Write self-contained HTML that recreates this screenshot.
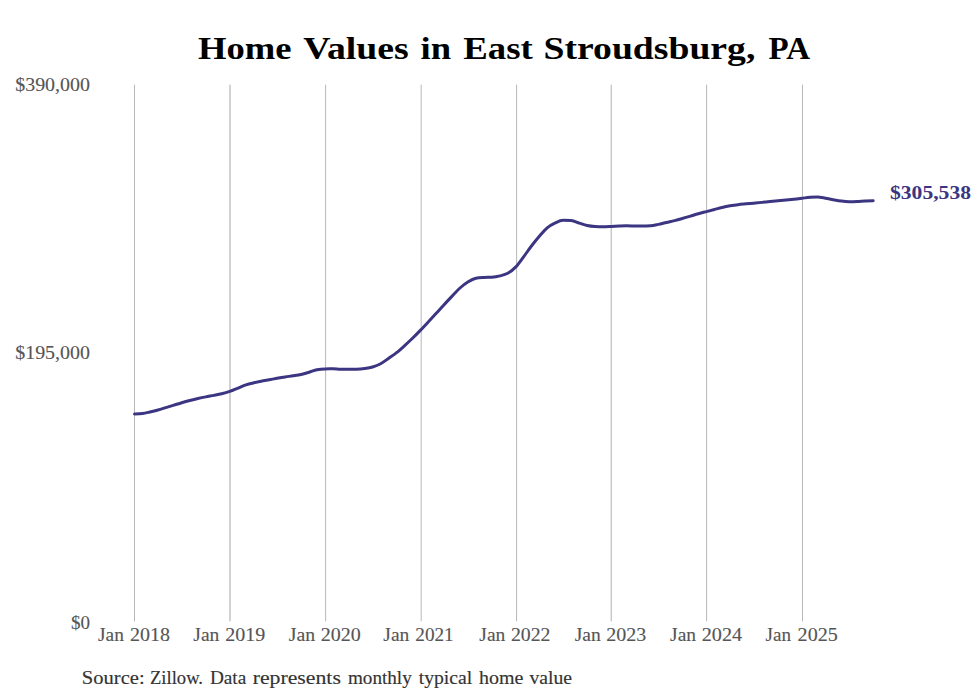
<!DOCTYPE html>
<html><head><meta charset="utf-8">
<style>
html,body{margin:0;padding:0;background:#fff;}
body{width:980px;height:699px;overflow:hidden;}
svg{display:block;}
text{font-family:"Liberation Serif", serif;}
.t{font-weight:bold;font-size:32px;fill:#000;}
.y{font-size:18.2px;fill:#555;stroke:#555;stroke-width:0.12px;}
.x{font-size:17.9px;fill:#555;stroke:#555;stroke-width:0.12px;}
.s{font-size:19px;fill:#333;stroke:#333;stroke-width:0.15px;}
.v{font-weight:bold;font-size:19.3px;fill:#3b3582;}
</style></head><body>
<svg width="980" height="699" viewBox="0 0 980 699">
<rect width="980" height="699" fill="#fff"/>
<g stroke="#b8b8b8" stroke-width="1">
<line x1="134.5" y1="84.7" x2="134.5" y2="621.3"/>
<line x1="230.0" y1="84.7" x2="230.0" y2="621.3" stroke="#a6a6a6"/>
<line x1="325.6" y1="84.7" x2="325.6" y2="621.3"/>
<line x1="421.2" y1="84.7" x2="421.2" y2="621.3"/>
<line x1="516.6" y1="84.7" x2="516.6" y2="621.3"/>
<line x1="611.2" y1="84.7" x2="611.2" y2="621.3" stroke="#b0b0b0"/>
<line x1="706.6" y1="84.7" x2="706.6" y2="621.3"/>
<line x1="802.5" y1="84.7" x2="802.5" y2="621.3"/>
</g>
<text class="t" x="198" y="59.3" textLength="93.5" lengthAdjust="spacingAndGlyphs">Home</text>
<text class="t" x="303.2" y="59.3" textLength="105.6" lengthAdjust="spacingAndGlyphs">Values</text>
<text class="t" x="420.6" y="59.3" textLength="30.5" lengthAdjust="spacingAndGlyphs">in</text>
<text class="t" x="463.3" y="59.3" textLength="69.5" lengthAdjust="spacingAndGlyphs">East</text>
<text class="t" x="543.6" y="59.3" textLength="211.7" lengthAdjust="spacingAndGlyphs">Stroudsburg,</text>
<text class="t" x="768.5" y="59.3" textLength="41.5" lengthAdjust="spacingAndGlyphs">PA</text>
<text class="y" x="90" y="91.3" text-anchor="end" textLength="74.8" lengthAdjust="spacingAndGlyphs">$390,000</text>
<text class="y" x="90" y="359.3" text-anchor="end" textLength="74.8" lengthAdjust="spacingAndGlyphs">$195,000</text>
<text class="y" x="90" y="628.5" text-anchor="end" textLength="19.0" lengthAdjust="spacingAndGlyphs">$0</text>
<g class="x">
<text x="98.0" y="641.1" textLength="25.9" lengthAdjust="spacingAndGlyphs">Jan</text><text x="129.9" y="641.1" textLength="40.0" lengthAdjust="spacingAndGlyphs">2018</text>
<text x="193.3" y="641.1" textLength="26.0" lengthAdjust="spacingAndGlyphs">Jan</text><text x="225.3" y="641.1" textLength="40.0" lengthAdjust="spacingAndGlyphs">2019</text>
<text x="288.7" y="641.1" textLength="26.4" lengthAdjust="spacingAndGlyphs">Jan</text><text x="320.7" y="641.1" textLength="40.0" lengthAdjust="spacingAndGlyphs">2020</text>
<text x="383.3" y="641.1" textLength="26.0" lengthAdjust="spacingAndGlyphs">Jan</text><text x="415.3" y="641.1" textLength="38.4" lengthAdjust="spacingAndGlyphs">2021</text>
<text x="479.3" y="641.1" textLength="26.0" lengthAdjust="spacingAndGlyphs">Jan</text><text x="510.9" y="641.1" textLength="39.6" lengthAdjust="spacingAndGlyphs">2022</text>
<text x="574.7" y="641.1" textLength="26.0" lengthAdjust="spacingAndGlyphs">Jan</text><text x="606.3" y="641.1" textLength="40.0" lengthAdjust="spacingAndGlyphs">2023</text>
<text x="670.1" y="641.1" textLength="26.0" lengthAdjust="spacingAndGlyphs">Jan</text><text x="701.7" y="641.1" textLength="40.4" lengthAdjust="spacingAndGlyphs">2024</text>
<text x="765.6" y="641.1" textLength="25.5" lengthAdjust="spacingAndGlyphs">Jan</text><text x="797.6" y="641.1" textLength="40.2" lengthAdjust="spacingAndGlyphs">2025</text>
</g>
<text class="s" x="81.8" y="683.5" textLength="62.8" lengthAdjust="spacingAndGlyphs">Source:</text>
<text class="s" x="150" y="683.5" textLength="53" lengthAdjust="spacingAndGlyphs">Zillow.</text>
<text class="s" x="209.9" y="683.5" textLength="36.4" lengthAdjust="spacingAndGlyphs">Data</text>
<text class="s" x="252.7" y="683.5" textLength="88.2" lengthAdjust="spacingAndGlyphs">represents</text>
<text class="s" x="347.9" y="683.5" textLength="63.9" lengthAdjust="spacingAndGlyphs">monthly</text>
<text class="s" x="418.7" y="683.5" textLength="53.6" lengthAdjust="spacingAndGlyphs">typical</text>
<text class="s" x="479" y="683.5" textLength="44.5" lengthAdjust="spacingAndGlyphs">home</text>
<text class="s" x="529.4" y="683.5" textLength="42.6" lengthAdjust="spacingAndGlyphs">value</text>
<path d="M134.50,413.96 C137.20,413.87 139.89,413.79 142.59,413.44 C145.03,413.13 147.46,412.48 149.90,411.94 C152.60,411.34 155.29,410.71 157.99,409.97 C160.60,409.26 163.21,408.40 165.82,407.61 C168.52,406.79 171.22,405.97 173.91,405.14 C176.52,404.34 179.14,403.50 181.75,402.73 C184.44,401.94 187.14,401.19 189.84,400.48 C192.53,399.78 195.23,399.11 197.93,398.50 C200.54,397.91 203.15,397.37 205.76,396.86 C208.46,396.33 211.15,395.92 213.85,395.40 C216.46,394.90 219.07,394.46 221.68,393.81 C224.38,393.14 227.08,392.36 229.77,391.41 C232.47,390.46 235.17,389.23 237.87,388.12 C240.30,387.12 242.74,385.94 245.17,385.10 C247.87,384.17 250.57,383.58 253.27,382.92 C255.88,382.28 258.49,381.72 261.10,381.20 C263.79,380.66 266.49,380.24 269.19,379.75 C271.80,379.28 274.41,378.77 277.02,378.31 C279.72,377.83 282.41,377.36 285.11,376.94 C287.81,376.52 290.51,376.23 293.20,375.81 C295.81,375.40 298.42,375.05 301.03,374.46 C303.73,373.85 306.43,373.01 309.13,372.20 C311.74,371.42 314.35,370.22 316.96,369.70 C319.65,369.17 322.35,368.93 325.05,368.90 C327.75,368.87 330.44,368.85 333.14,368.85 C335.66,368.85 338.19,369.30 340.71,369.30 C343.41,369.30 346.10,369.30 348.80,369.30 C351.41,369.30 354.02,369.27 356.63,369.20 C359.33,369.13 362.03,368.83 364.72,368.44 C367.33,368.07 369.94,367.71 372.55,366.94 C375.25,366.15 377.95,365.15 380.65,363.70 C383.34,362.25 386.04,360.09 388.74,358.21 C391.35,356.39 393.96,354.66 396.57,352.60 C399.27,350.47 401.96,348.03 404.66,345.60 C407.27,343.25 409.88,340.84 412.49,338.30 C415.19,335.68 417.89,332.90 420.58,330.10 C423.28,327.30 425.98,324.39 428.67,321.50 C431.11,318.89 433.55,316.26 435.98,313.60 C438.68,310.66 441.38,307.61 444.08,304.70 C446.69,301.88 449.30,299.14 451.91,296.40 C454.60,293.57 457.30,290.43 460.00,288.00 C462.61,285.65 465.22,283.60 467.83,282.00 C470.53,280.34 473.22,278.83 475.92,278.30 C478.62,277.77 481.31,277.68 484.01,277.50 C486.62,277.33 489.23,277.41 491.84,277.23 C494.54,277.04 497.24,276.57 499.93,275.90 C502.54,275.25 505.16,274.76 507.77,273.30 C510.46,271.80 513.16,269.72 515.86,266.90 C518.55,264.08 521.25,259.99 523.95,256.37 C526.39,253.10 528.82,249.48 531.26,246.28 C533.95,242.74 536.65,239.36 539.35,236.26 C541.96,233.26 544.57,230.12 547.18,227.91 C549.88,225.63 552.57,224.18 555.27,222.90 C557.88,221.66 560.49,220.30 563.10,220.30 C565.80,220.30 568.50,220.37 571.19,220.50 C573.89,220.63 576.59,222.25 579.29,223.10 C581.90,223.92 584.51,224.94 587.12,225.50 C589.81,226.08 592.51,226.34 595.21,226.48 C597.82,226.62 600.43,226.69 603.04,226.69 C605.74,226.69 608.43,226.53 611.13,226.42 C613.83,226.31 616.53,226.12 619.22,226.02 C621.66,225.93 624.10,225.83 626.53,225.83 C629.23,225.83 631.93,225.89 634.62,225.92 C637.23,225.95 639.84,226.00 642.45,226.00 C645.15,226.00 647.85,225.93 650.55,225.80 C653.16,225.67 655.77,224.95 658.38,224.40 C661.07,223.83 663.77,223.07 666.47,222.44 C669.17,221.81 671.86,221.27 674.56,220.60 C677.17,219.95 679.78,219.21 682.39,218.47 C685.09,217.71 687.79,216.89 690.48,216.09 C693.09,215.32 695.70,214.51 698.31,213.77 C701.01,213.00 703.71,212.30 706.41,211.58 C709.10,210.86 711.80,210.17 714.50,209.47 C717.02,208.81 719.54,208.10 722.07,207.51 C724.76,206.88 727.46,206.32 730.16,205.84 C732.77,205.37 735.38,204.97 737.99,204.64 C740.69,204.30 743.38,204.11 746.08,203.86 C748.69,203.62 751.30,203.41 753.91,203.17 C756.61,202.92 759.31,202.65 762.00,202.38 C764.70,202.11 767.40,201.83 770.10,201.56 C772.71,201.30 775.32,201.05 777.93,200.81 C780.62,200.56 783.32,200.34 786.02,200.08 C788.63,199.82 791.24,199.54 793.85,199.25 C796.55,198.95 799.24,198.62 801.94,198.28 C804.64,197.94 807.33,197.38 810.03,197.23 C812.47,197.09 814.90,197.02 817.34,197.02 C820.04,197.02 822.74,197.71 825.43,198.17 C828.04,198.61 830.65,199.23 833.26,199.70 C835.96,200.19 838.66,200.72 841.35,201.05 C843.97,201.37 846.58,201.67 849.19,201.67 C851.88,201.67 854.58,201.59 857.28,201.46 C859.97,201.33 862.67,201.04 865.37,200.91 C867.98,200.79 870.59,200.74 873.20,200.69" fill="none" stroke="#3b3582" stroke-width="3" stroke-linejoin="round" stroke-linecap="round"/>
<text class="v" x="890" y="198.6" textLength="81" lengthAdjust="spacingAndGlyphs">$305,538</text>
</svg>
</body></html>
